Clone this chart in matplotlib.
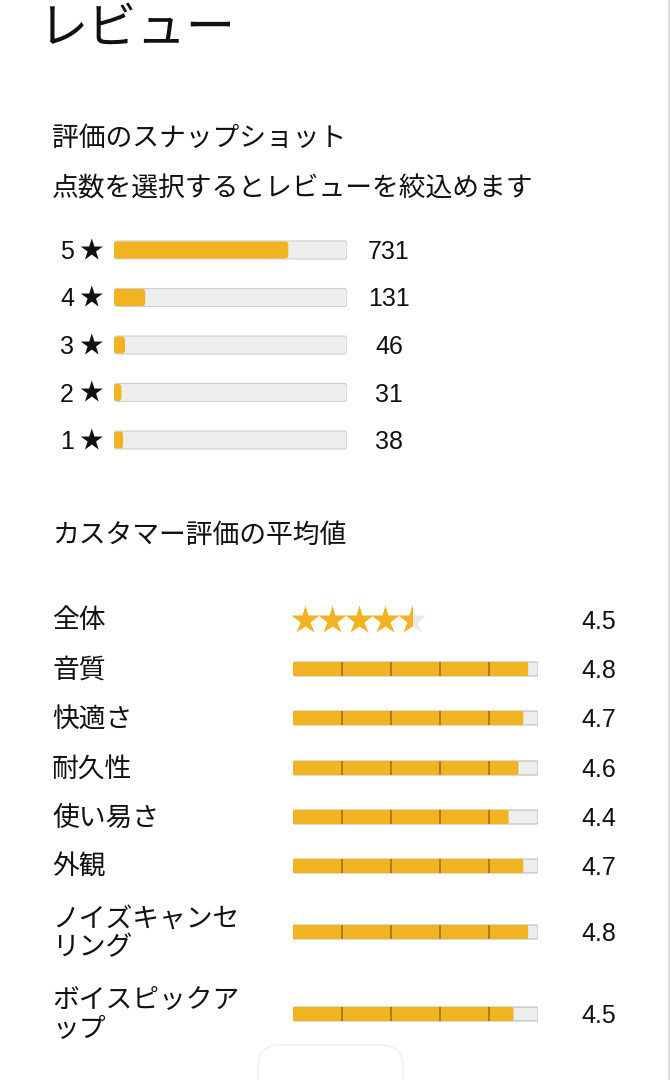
import matplotlib
matplotlib.use('Agg')
import matplotlib.pyplot as plt
from matplotlib.patches import FancyBboxPatch, Rectangle

# ---------------- data ----------------
title = "レビュー"
snapshot_title = "評価のスナップショット"
snapshot_sub = "点数を選択するとレビューを絞込めます"
star_levels = [5, 4, 3, 2, 1]
star_counts = [731, 131, 46, 31, 38]
avg_title = "カスタマー評価の平均値"
overall_label = "全体"
overall_score = 4.5
attr_labels = ["音質", "快適さ", "耐久性", "使い易さ", "外観",
               "ノイズキャンセ\nリング", "ボイスピックア\nップ"]
attr_scores = [4.8, 4.7, 4.6, 4.4, 4.7, 4.8, 4.5]

# ---------------- styling ----------------
W, H = 670, 1080
JP = ['Noto Sans CJK JP', 'DejaVu Sans']
NUM = ['Liberation Sans', 'Noto Sans CJK JP', 'DejaVu Sans']
TXT = '#111111'
GOLD = '#F2B322'
TRACK = '#EEEEEE'
TRACK_EDGE = '#CFCFCF'
DIVIDER = '#9A6B12'

fig = plt.figure(figsize=(W / 100, H / 100), dpi=100)
fig.patch.set_facecolor('white')


def px_axes(x0, w, xmax):
    ax = fig.add_axes([x0 / W, 0, w / W, 1])
    ax.set_xlim(0, xmax)
    ax.set_ylim(H, 0)
    ax.axis('off')
    return ax


def rbar(ax, x0, yc, width, height, r_px, px_w, xmax, **kw):
    unit = xmax / px_w  # x data units per pixel
    p = FancyBboxPatch((x0, yc - height / 2), width, height,
                       boxstyle=f"round,pad=0,rounding_size={r_px * unit}",
                       mutation_aspect=1 / unit, **kw)
    ax.add_patch(p)
    return p


base = px_axes(0, W, W)

# faint decorations
base.plot([669, 669], [0, H], color='#D6D6D6', lw=1.2)
base.add_patch(FancyBboxPatch((258, 1045), 145, 80, boxstyle="round,pad=0,rounding_size=22",
                              fc='white', ec='#F3F3F3', lw=1.5))

# title + headings
base.text(38, 29, title, fontsize=35.5, family=JP, color=TXT, ha='left', va='center')
base.text(52, 138, snapshot_title, fontsize=19.3, family=JP, color=TXT, ha='left', va='center')
base.text(52, 189, snapshot_sub, fontsize=19.3, family=JP, color=TXT, ha='left', va='center')
base.text(52, 535, avg_title, fontsize=19.3, family=JP, color=TXT, ha='left', va='center')

# ---------------- histogram ----------------
total = sum(star_counts)
HX, HW = 114, 233
hax = px_axes(HX, HW, total)
row_y = [250 + 47.5 * i for i in range(len(star_levels))]
for lvl, cnt, yc in zip(star_levels, star_counts, row_y):
    base.text(60, yc + 2, f"{lvl}", fontsize=18, family=NUM, color=TXT, ha='left', va='center')
    base.text(79, yc + 1, "★", fontsize=17, family=JP, color=TXT, ha='left', va='center')
    rbar(hax, 0, yc, total, 18, 3, HW, total, fc=TRACK, ec=TRACK_EDGE, lw=0.8)
    rbar(hax, 0, yc, cnt, 17, 3, HW, total, fc=GOLD, ec='none')
    base.text(389, yc + 2, f"{cnt}", fontsize=18, family=NUM, color=TXT, ha='center', va='center')

# ---------------- overall stars ----------------
SX, SW = 292, 133
sax = px_axes(SX, SW, 5)
oy = 620
STAR_MS = 21.5
base.text(52, 620, overall_label, fontsize=19.3, family=JP, color=TXT, ha='left', va='center')
for i in range(5):
    frac = min(max(overall_score - i, 0), 1)
    if frac >= 1:
        sax.plot([i + 0.5], [oy], marker='*', ms=STAR_MS, color=GOLD, mec='none', ls='none')
    else:
        sax.plot([i + 0.5], [oy], marker='*', ms=STAR_MS, color='#E9E9E9', mec='none', ls='none')
        if frac > 0:
            ln, = sax.plot([i + 0.5], [oy], marker='*', ms=STAR_MS, color=GOLD, mec='none', ls='none')
            clip = Rectangle((i, oy - 30), frac, 60, transform=sax.transData)
            ln.set_clip_path(clip)
base.text(599, 622, f"{overall_score}", fontsize=18, family=NUM, color=TXT, ha='center', va='center')

# ---------------- attribute bars ----------------
AX, AW = 293, 245
aax = px_axes(AX, AW, 5)
attr_y = [669, 718, 768, 817, 866, 932, 1014]
for lab, sc, yc in zip(attr_labels, attr_scores, attr_y):
    base.text(52, yc + 1, lab, fontsize=19.3, family=JP, color=TXT, ha='left', va='center',
              linespacing=1.08)
    rbar(aax, 0, yc, 5, 14, 2, AW, 5, fc=TRACK, ec='#BDBDBD', lw=0.8)
    rbar(aax, 0, yc, sc, 14, 2, AW, 5, fc=GOLD, ec='none')
    for k in range(1, 5):
        aax.plot([k, k], [yc - 7, yc + 7], color=DIVIDER, lw=1.1, solid_capstyle='butt')
    base.text(599, yc + 2, f"{sc}", fontsize=18, family=NUM, color=TXT, ha='center', va='center')

fig.savefig('out.png', dpi=100, facecolor='white')
